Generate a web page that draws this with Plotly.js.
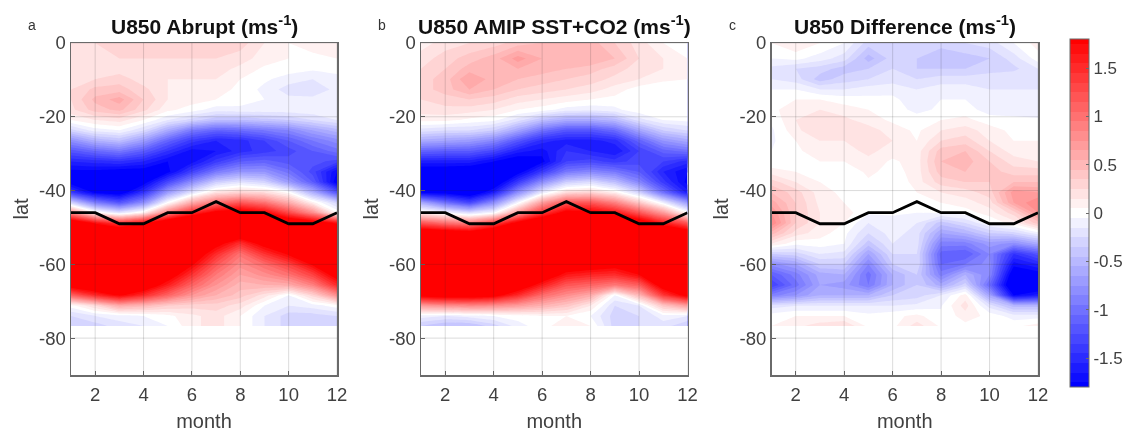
<!DOCTYPE html>
<html><head><meta charset="utf-8">
<script src="https://cdn.plot.ly/plotly-3.0.1.min.js"></script>
<style>html,body{margin:0;padding:0;background:#fff}#g{width:1128px;height:432px;filter:blur(0.5px)}</style>
</head><body><div id="g"></div>
<script>
const months=[1,2,3,4,5,6,7,8,9,10,11,12];
const lat=[0,-4.2,-7,-9.8,-12.6,-15.3,-18.1,-20.9,-23.7,-26.5,-29.3,-32.1,-34.9,-37.7,-40.5,-43.3,-46,-48.8,-51.6,-54.4,-57.2,-60,-62.8,-65.6,-68.4,-71.2,-74,-76.7];
const jet=[-46,-46,-49,-49,-46,-46,-43,-46,-46,-49,-49,-46];
const titles=['U850 Abrupt (ms<sup>-1</sup>)','U850 AMIP SST+CO2 (ms<sup>-1</sup>)','U850 Difference (ms<sup>-1</sup>)'];
const letters=['a','b','c'];
const xTicks=[2,4,6,8,10,12];
const yTicks=[-80,-60,-40,-20,0];
const yTickText=['-80','-60','-40','-20','0'];
const cbTicks=[-1.5,-1,-0.5,0,0.5,1,1.5];
const cbTickText=['-1.5','-1','-0.5','0','0.5','1','1.5'];
const zAbrupt=[
[.2,.25,.3,.3,.3,.3,.3,.3,.15,.05,.1,.15],
[.2,.25,.25,.25,.25,.25,.25,.2,.1,.05,.02,.05],
[.2,.25,.2,.2,.2,.2,.2,.12,.03,0,-.03,-.02],
[.22,.25,.3,.2,.15,.15,.15,.05,-.03,-.1,-.15,-.08],
[.25,.38,.4,.28,.15,.15,.1,.02,-.08,-.2,-.22,-.12],
[.25,.48,.6,.35,.15,.1,.05,0,-.05,-.12,-.12,-.08],
[.22,.4,.48,.28,.08,0,-.1,-.08,-.08,-.08,-.07,-.05],
[.05,.15,.2,.05,-.15,-.3,-.45,-.45,-.4,-.35,-.25,-.15],
[-.3,-.1,-.05,-.25,-.6,-.95,-1.1,-1.05,-.95,-.85,-.65,-.5],
[-.8,-.55,-.45,-.7,-1.1,-1.4,-1.55,-1.5,-1.35,-1.15,-.95,-.8],
[-1.2,-1.05,-.95,-1.15,-1.45,-1.7,-1.65,-1.5,-1.4,-1.3,-1.15,-1],
[-1.55,-1.5,-1.45,-1.55,-1.75,-1.7,-1.4,-1.15,-1.1,-1.2,-1.2,-1.3],
[-1.8,-1.8,-1.85,-1.85,-1.8,-1.35,-.95,-.75,-.75,-1,-1.3,-1.75],
[-1.85,-1.95,-2,-1.85,-1.3,-.8,-.35,-.2,-.3,-.7,-1.15,-1.85],
[-1.4,-1.8,-1.9,-1.45,-.7,-.2,.2,.3,.25,.02,-.55,-1.2],
[-.3,-.9,-1.2,-.8,0,.6,1,1.2,1,.6,.1,-.3],
[.8,.1,-.2,.1,.9,1.5,1.9,2,1.8,1.3,.8,.05],
[2.2,1.7,1.4,1.7,2.2,2.5,2.6,2.6,2.5,2.2,2,1.7],
[2.6,2.5,2.3,2.4,2.6,2.7,2.4,2.1,2.4,2.5,2.5,2.4],
[2.7,2.7,2.7,2.7,2.7,2.4,1.9,1.45,1.9,2.3,2.6,2.7],
[2.7,2.8,2.8,2.8,2.6,2.1,1.5,1,1.45,1.8,2.3,2.6],
[2.6,2.7,2.8,2.7,2.3,1.8,1.2,.8,1.05,1.35,1.8,2.3],
[2.4,2.5,2.6,2.4,2,1.45,.95,.65,.8,1,1.35,1.95],
[2,2.2,2.3,2.1,1.6,1.1,.75,.5,.55,.6,.9,1.5],
[1.1,1.5,1.8,1.5,1.1,.75,.55,.4,.2,-.05,.3,.8],
[0,.25,.6,.5,.35,.3,.3,.2,-.05,-.15,-.1,0],
[-.25,-.15,-.1,-.05,.02,.12,.2,.05,-.15,-.3,-.3,-.25],
[-.35,-.3,-.2,-.15,-.05,.12,.2,.05,-.15,-.3,-.35,-.35]];
const zAmip=[
[.1,.2,.25,.3,.4,.45,.5,.5,.35,.2,.05,.05],
[.2,.3,.4,.5,.7,.55,.55,.55,.45,.25,.15,.05],
[.25,.35,.5,.55,.55,.5,.45,.4,.3,.2,.15,.12],
[.3,.4,.65,.5,.45,.4,.35,.3,.22,.15,.08,.05],
[.3,.4,.55,.45,.35,.3,.25,.2,.1,0,-.05,0],
[.25,.3,.35,.3,.2,.15,.1,.05,.02,-.02,-.03,.02],
[.2,.22,.2,.15,.05,0,-.1,-.12,-.08,.02,.05,.03],
[.08,.08,.02,-.02,-.2,-.45,-.6,-.6,-.5,-.2,-.05,-.02],
[-.2,-.25,-.25,-.35,-.65,-1,-1.2,-1.2,-1.05,-.65,-.35,-.25],
[-.6,-.65,-.7,-.85,-1.2,-1.5,-1.6,-1.6,-1.5,-1.1,-.75,-.6],
[-1.1,-1.15,-1.15,-1.3,-1.6,-1.7,-1.45,-1.55,-1.65,-1.35,-1.1,-1],
[-1.6,-1.6,-1.6,-1.75,-1.9,-1.8,-1.35,-1.3,-1.4,-1.3,-1.35,-1.5],
[-1.9,-1.9,-1.95,-2,-1.85,-1.4,-.95,-.85,-.95,-1.15,-1.55,-1.75],
[-2,-2,-2.1,-2,-1.4,-.8,-.35,-.25,-.45,-.85,-1.4,-1.8],
[-1.8,-1.85,-2,-1.6,-.8,-.15,.25,.3,.1,-.3,-1,-1.6],
[-.6,-1,-1.3,-.8,-.05,.7,1.2,1.2,.9,.4,-.1,-.7],
[.1,-.05,-.25,-.05,.7,1.4,1.9,1.85,1.65,1.2,.7,.02],
[1.2,1,.9,1.3,1.9,2.3,2.5,2.4,2.3,2.1,1.6,1.2],
[2.2,2.1,2,2.3,2.6,2.7,2.8,2.8,2.7,2.5,2.3,2.1],
[2.6,2.6,2.6,2.7,2.8,2.9,2.9,2.9,2.8,2.8,2.7,2.6],
[2.8,2.8,2.8,2.9,2.9,2.9,2.7,2.7,2.6,2.8,2.8,2.8],
[2.8,2.9,2.9,2.9,2.8,2.6,2.1,2,1.9,2.4,2.7,2.8],
[2.7,2.8,2.8,2.8,2.6,2.1,1.65,1.55,1.5,1.75,2.4,2.6],
[2.4,2.5,2.5,2.5,2.1,1.6,1.2,1.1,.95,1.15,2,2.3],
[1.9,2,2,1.9,1.5,1.05,.8,.6,-.05,.5,1.4,1.9],
[.7,.8,.85,.8,.7,.55,.4,.15,-.25,-.15,.4,.7],
[-.1,-.15,-.1,-.05,0,.05,.05,-.05,-.3,-.25,-.1,-.15],
[-.35,-.45,-.45,-.3,-.1,.02,.1,.05,-.3,-.25,-.2,-.35]];
const zDiff=[
[.05,.15,.05,-.05,-.3,-.3,-.3,-.3,-.25,-.2,-.05,.1],
[-.05,-.02,-.1,-.2,-.5,-.3,-.35,-.45,-.4,-.35,-.2,0],
[-.18,-.25,-.3,-.4,-.35,-.25,-.35,-.35,-.35,-.3,-.28,-.15],
[-.15,-.2,-.4,-.3,-.25,-.2,-.25,-.2,-.2,-.18,-.15,-.15],
[-.05,-.05,-.15,-.15,-.1,-.08,-.15,-.1,-.1,-.15,-.15,-.15],
[0,.05,.05,0,-.02,-.03,-.1,-.05,-.05,-.12,-.12,-.12],
[.02,.12,.15,.1,.05,0,-.08,-.03,0,-.1,-.1,-.12],
[-.03,.15,.2,.18,.1,.03,0,.05,.08,0,-.02,-.03],
[-.07,.12,.25,.2,.2,.1,.03,.15,.2,.1,.02,.02],
[-.07,.05,.15,.15,.2,.15,.05,.25,.3,.15,.05,.05],
[-.05,.03,.1,.1,.18,.1,.1,.4,.45,.25,.1,.08],
[-.03,.02,.05,.05,.12,.03,.1,.45,.5,.35,.2,.15],
[.1,.05,.02,-.05,.08,0,.1,.4,.45,.4,.3,.3],
[.3,.15,.05,-.02,.03,-.05,.1,.3,.35,.35,.45,.45],
[.45,.3,.1,.02,.02,-.03,.05,.15,.2,.3,.7,.65],
[.6,.35,.12,.05,0,.02,.02,.05,.1,.2,.65,.85],
[.75,.35,.15,.1,-.03,-.03,-.05,-.03,0,.1,.3,.75],
[.85,.35,.15,.05,-.15,-.1,-.15,-.4,-.25,-.05,.1,.4],
[.5,.2,.1,-.02,-.25,-.1,-.2,-.65,-.55,-.35,-.3,-.1],
[.15,-.02,0,-.05,-.4,-.15,-.2,-.9,-.9,-.7,-.8,-.6],
[-.35,-.3,-.15,-.18,-.65,-.25,-.25,-1.1,-1.15,-.85,-1.45,-1.2],
[-.8,-.65,-.35,-.35,-.85,-.35,-.25,-1.05,-.95,-.8,-1.7,-1.55],
[-1.15,-.9,-.6,-.55,-1,-.55,-.35,-.9,-.55,-.85,-1.95,-1.85],
[-1.35,-1,-.65,-.7,-.95,-.55,-.35,-.6,-.3,-1.05,-2.1,-2],
[-.9,-.75,-.55,-.55,-.55,-.35,-.3,-.15,.1,-.65,-1.75,-1.6],
[-.2,-.15,-.15,-.15,-.15,-.15,-.12,-.06,.2,-.2,-.5,-.5],
[0,.05,.05,.05,-.02,.02,.08,-.03,.1,.02,-.1,-.1],
[.05,.12,.2,.25,.02,.02,.2,.03,.02,.02,.02,.1]];
const fields=[zAbrupt,zAmip,zDiff];

const W=1128,H=432;
const panels=[[71,337],[421,687.5],[771.5,1038]];
const plotTop=43,plotBot=375;
const textCol='#404040',axCol='#6a6a6a',grid='rgba(40,40,40,0.16)';
const font='"Liberation Sans", Arial, sans-serif';
const scale=[[0,'#0000ff'],[0.5,'#ffffff'],[1,'#ff0000']];
const layout={width:W,height:H,margin:{l:0,r:0,t:0,b:0},paper_bgcolor:'#fff',plot_bgcolor:'#fff',
  font:{family:font,color:textCol,size:18},showlegend:false,shapes:[],annotations:[]};
const traces=[];
panels.forEach((p,i)=>{
  const s=i?String(i+1):'';
  const ax={showgrid:false,zeroline:false,showline:true,mirror:true,linecolor:axCol,linewidth:1.5,
    ticks:'inside',ticklen:4,tickcolor:axCol,tickwidth:1,layer:'above traces',
    tickfont:{family:font,size:18.5,color:textCol}};
  layout['xaxis'+s]=Object.assign({},ax,{domain:[p[0]/W,p[1]/W],range:[1,12],tickmode:'array',tickvals:xTicks,
    ticktext:xTicks.map(String),anchor:'y'+s,ticklabelstandoff:2,title:{text:'month',standoff:11,font:{family:font,size:20,color:textCol}}});
  layout['yaxis'+s]=Object.assign({},ax,{domain:[1-plotBot/H,1-plotTop/H],range:[-90,0],tickmode:'array',tickvals:yTicks,
    ticktext:yTickText,anchor:'x'+s,title:{text:'lat',standoff:5,font:{family:font,size:20,color:textCol}}});
  const tr={type:'contour',x:months,y:lat,z:fields[i],xaxis:'x'+s,yaxis:'y'+s,colorscale:scale,
    autocontour:false,contours:{coloring:'fill',start:-1.75,end:1.75,size:0.1,showlines:false},
    line:{width:0,smoothing:0},connectgaps:false,hoverinfo:'skip',showscale:i===2};
  if(i===2) tr.colorbar={x:1070/W,xanchor:'left',xpad:0,y:1-387/H,yanchor:'bottom',ypad:0,len:348/H,lenmode:'fraction',
    thickness:18.5,thicknessmode:'pixels',outlinecolor:axCol,outlinewidth:1,tickmode:'array',tickvals:cbTicks,ticktext:cbTickText,
    ticks:'inside',ticklen:3,tickcolor:axCol,tickfont:{family:font,size:17,color:textCol},ticklabelposition:'outside'};
  traces.push(tr);
  traces.push({type:'scatter',mode:'lines',x:months,y:jet,xaxis:'x'+s,yaxis:'y'+s,line:{color:'#000',width:2.8},hoverinfo:'skip',cliponaxis:true});
  xTicks.forEach(v=>layout.shapes.push({type:'line',layer:'above',xref:'x'+s,yref:'y'+s+' domain',x0:v,x1:v,y0:0,y1:1,line:{color:grid,width:1}}));
  yTicks.forEach(v=>layout.shapes.push({type:'line',layer:'above',xref:'x'+s+' domain',yref:'y'+s,x0:0,x1:1,y0:v,y1:v,line:{color:grid,width:1}}));
  layout.annotations.push({xref:'paper',yref:'paper',x:(p[0]+p[1])/2/W,y:1-25/H,xanchor:'center',yanchor:'middle',showarrow:false,
    text:'<b>'+titles[i]+'</b>',font:{family:font,size:21,color:'#111'}});
  layout.annotations.push({xref:'paper',yref:'paper',x:(p[0]-45)/W,y:1-25/H,xanchor:'left',yanchor:'middle',showarrow:false,
    text:letters[i],font:{family:font,size:14,color:'#333'}});
});
Plotly.newPlot('g',traces,layout,{displayModeBar:false,staticPlot:true});
</script></body></html>
